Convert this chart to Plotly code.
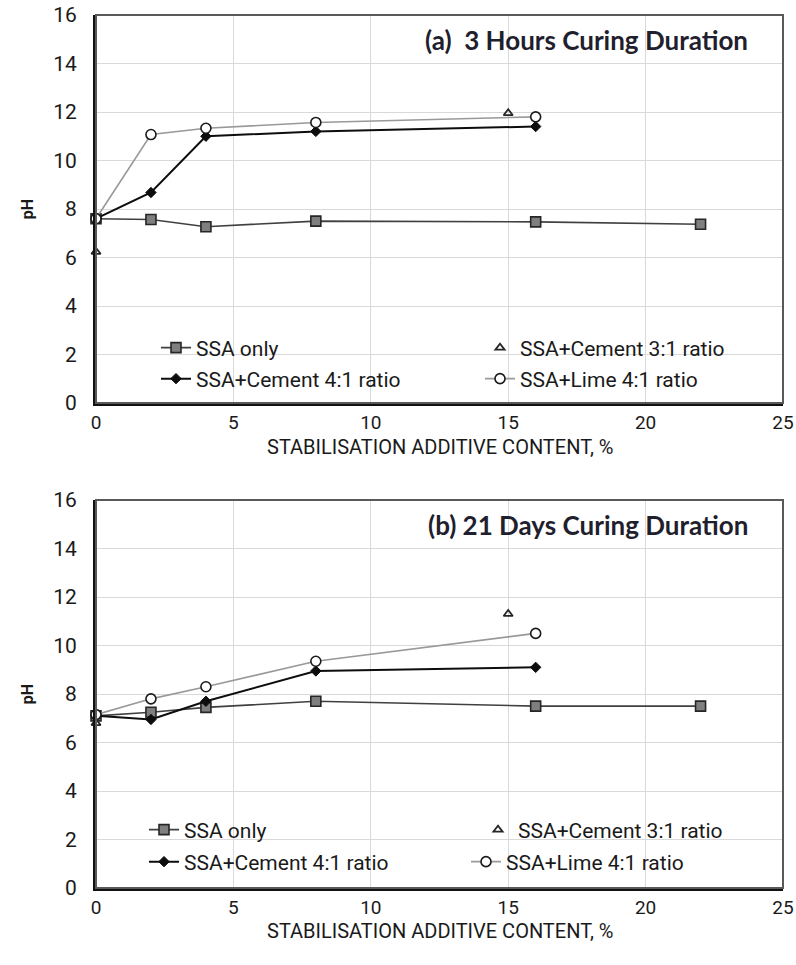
import plotly.graph_objects as go

# ---------------- data ----------------
ssa_x = [0, 2, 4, 8, 16, 22]
c41_x = [0, 2, 4, 8, 16]
lime_x = [0, 2, 4, 8, 16]
c31_x = [0, 15]

# (a) 3 hours
a_ssa = [7.6, 7.57, 7.27, 7.5, 7.47, 7.37]
a_c41 = [7.6, 8.68, 11.0, 11.2, 11.4]
a_lime = [7.6, 11.07, 11.33, 11.57, 11.8]
a_c31 = [6.23, 11.95]

# (b) 21 days
b_ssa = [7.1, 7.25, 7.45, 7.7, 7.5, 7.5]
b_c41 = [7.1, 6.95, 7.7, 8.95, 9.1]
b_lime = [7.15, 7.8, 8.3, 9.35, 10.5]
b_c31 = [6.8, 11.3]

titles = ["(a)  3 Hours Curing Duration", "(b) 21 Days Curing Duration"]
x_title = "STABILISATION ADDITIVE CONTENT, %"
names = ["SSA only", "SSA+Cement 4:1 ratio", "SSA+Cement 3:1 ratio", "SSA+Lime 4:1 ratio"]
x_ticks = [0, 5, 10, 15, 20, 25]
y_ticks = [0, 2, 4, 6, 8, 10, 12, 14, 16]

TICKFONT = "Roboto, sans-serif"
TITLEFONT = "Lato, Open Sans, sans-serif"

W, H = 796, 965
ML, MR, MT, MB = 96, 13, 15, 77
PW = W - ML - MR
PH = H - MT - MB

def px_x(p):
    return (p - ML) / PW

def px_y(p):
    return (H - MB - p) / PH

fig = go.Figure()

panels = [
    (a_ssa, a_c41, a_lime, a_c31, "x", "y"),
    (b_ssa, b_c41, b_lime, b_c31, "x2", "y2"),
]

# legend pixel positions (left x, center y) for each panel
leg_pos = [
    [(156, 348), (156, 379), (480, 348), (480, 379)],
    [(144, 830), (144, 862), (478, 830), (466, 862)],
]

legend_layouts = {}
li = 1
for pi, (ssa, c41, lime, c31, xa, ya) in enumerate(panels):
    specs = [
        dict(x=ssa_x, y=ssa, name=names[0], mode="lines+markers",
             line=dict(color="#404040", width=1.6),
             marker=dict(symbol="square", size=10, color="#7f7f7f",
                         line=dict(color="#262626", width=1.6))),
        dict(x=c41_x, y=c41, name=names[1], mode="lines+markers",
             line=dict(color="#0d0d0d", width=2),
             marker=dict(symbol="diamond", size=8, color="#0d0d0d",
                         line=dict(color="#0d0d0d", width=1))),
        dict(x=c31_x, y=c31, name=names[2], mode="markers",
             marker=dict(symbol="triangle-up-open", size=8, color="#262626",
                         line=dict(color="#262626", width=1.8))),
        dict(x=lime_x, y=lime, name=names[3], mode="lines+markers",
             line=dict(color="#999999", width=1.6),
             marker=dict(symbol="circle", size=10, color="white",
                         line=dict(color="#1a1a1a", width=1.6))),
    ]
    order = [0, 1, 3, 2]
    for k in order:
        s = specs[k]
        lname = "legend" if li == 1 else f"legend{li}"
        fig.add_trace(go.Scatter(xaxis=xa, yaxis=ya, legend=lname,
                                 showlegend=True, cliponaxis=False, **s))
        lx, ly = leg_pos[pi][k]
        legend_layouts[lname] = dict(
            x=px_x(lx), y=px_y(ly), xanchor="left", yanchor="middle",
            bgcolor="rgba(0,0,0,0)", borderwidth=0,
            font=dict(family=TICKFONT, size=21, color="#1a1a1a"),
            itemwidth=30, tracegroupgap=0,
        )
        li += 1

# domains
top_dom = [px_y(403), px_y(15)]
bot_dom = [px_y(888), px_y(500)]

axis_common = dict(
    range=[0, 25], tickvals=x_ticks, showgrid=True, gridcolor="#d9d9d9", gridwidth=1,
    showline=True, linecolor="#111111", linewidth=3, zeroline=False, ticks="",
    automargin=False, ticklabelstandoff=0,
    tickfont=dict(family=TICKFONT, size=19, color="#1a1a1a"),
)
yaxis_common = dict(
    range=[0, 16], tickvals=y_ticks, showgrid=True, gridcolor="#d9d9d9", gridwidth=1,
    showline=True, linecolor="#111111", linewidth=3, zeroline=False, ticks="",
    automargin=False, ticklabelstandoff=12,
    tickfont=dict(family=TICKFONT, size=21, color="#1a1a1a"),
    title=dict(text="<b>pH</b>", font=dict(family=TICKFONT, size=16, color="#1a1a1a"), standoff=16),
)

fig.update_layout(
    width=W, height=H,
    margin=dict(l=ML, r=MR, t=MT, b=MB),
    paper_bgcolor="white", plot_bgcolor="white",
    xaxis=dict(domain=[0, 1], anchor="y", **axis_common),
    yaxis=dict(domain=top_dom, anchor="x", **yaxis_common),
    xaxis2=dict(domain=[0, 1], anchor="y2", **axis_common),
    yaxis2=dict(domain=bot_dom, anchor="x2", **yaxis_common),
    **legend_layouts,
)

shapes = []
annotations = []
for xa, ya, title, ty in [("x", "y", titles[0], 447), ("x2", "y2", titles[1], 931)]:
    shapes.append(dict(type="rect", xref=f"{xa} domain", yref=f"{ya} domain",
                       x0=0, x1=1, y0=0, y1=1, line=dict(color="#595959", width=2),
                       layer="above"))
    annotations.append(dict(text=f"<b>{title}</b>", xref=f"{xa} domain", yref=f"{ya} domain",
                            x=0.952, y=0.935, xanchor="right", yanchor="middle", showarrow=False,
                            font=dict(family=TITLEFONT, size=26, color="#1f1f2e")))
    annotations.append(dict(text=x_title, xref="paper", yref="paper",
                            x=px_x(441), y=px_y(ty), xanchor="center", yanchor="middle",
                            showarrow=False,
                            font=dict(family=TICKFONT, size=20, color="#1a1a1a")))
fig.update_layout(shapes=shapes, annotations=annotations)

fig.write_html("out.html")
